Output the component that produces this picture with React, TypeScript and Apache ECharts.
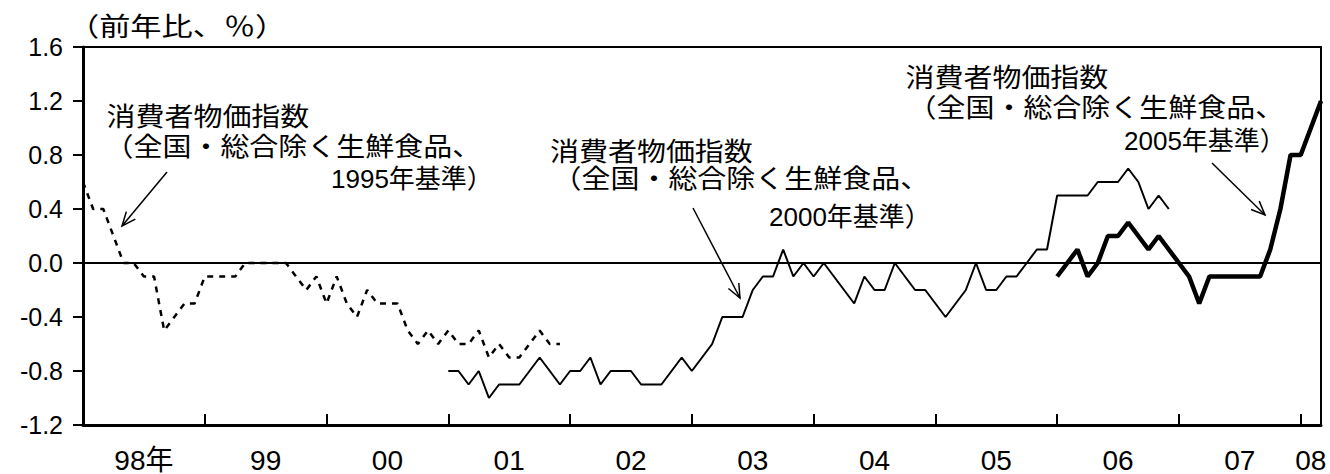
import React, { useEffect, useRef } from "react";
import * as echarts from "echarts";

// ---- categories: monthly, Jan 1998 – Mar 2008 ----
const FIRST_YEAR = 1998;
const LAST_YEAR = 2008;
const LAST_MONTH = 3;
const MONTHS: string[] = [];
for (let y = FIRST_YEAR; y <= LAST_YEAR; y++) {
  for (let m = 1; m <= 12; m++) {
    if (y === LAST_YEAR && m > LAST_MONTH) break;
    MONTHS.push(`${y}-${String(m).padStart(2, "0")}`);
  }
}

// ---- tick labels ----
const YEAR_LABELS = ["98年", "99", "00", "01", "02", "03", "04", "05", "06", "07", "08"];
const YEAR_LABEL_AT = [
  "1998-07", "1999-07", "2000-07", "2001-07", "2002-07", "2003-07",
  "2004-07", "2005-07", "2006-07", "2007-07", "2008-02",
];
const Y_MIN = -1.2;
const Y_MAX = 1.6;
const Y_STEP = 0.4;

// ---- series values (前年比, %) ----
// CPI 1995 base, from 1998-01
const CPI95_START = "1998-01";
const CPI95 = [
  0.6, 0.4, 0.4, 0.2, 0.0, 0.0, -0.1, -0.1, -0.5, -0.4, -0.3, -0.3,
  -0.1, -0.1, -0.1, -0.1, 0.0, 0.0, 0.0, 0.0, 0.0, -0.1, -0.2, -0.1,
  -0.3, -0.1, -0.3, -0.4, -0.2, -0.3, -0.3, -0.3, -0.5, -0.6, -0.5, -0.6,
  -0.5, -0.6, -0.6, -0.5, -0.7, -0.6, -0.7, -0.7, -0.6, -0.5, -0.6, -0.6,
];
// CPI 2000 base, from 2001-01
const CPI00_START = "2001-01";
const CPI00 = [
  -0.8, -0.8, -0.9, -0.8, -1.0, -0.9, -0.9, -0.9, -0.8, -0.7, -0.8, -0.9,
  -0.8, -0.8, -0.7, -0.9, -0.8, -0.8, -0.8, -0.9, -0.9, -0.9, -0.8, -0.7,
  -0.8, -0.7, -0.6, -0.4, -0.4, -0.4, -0.2, -0.1, -0.1, 0.1, -0.1, 0.0,
  -0.1, 0.0, -0.1, -0.2, -0.3, -0.1, -0.2, -0.2, 0.0, -0.1, -0.2, -0.2,
  -0.3, -0.4, -0.3, -0.2, 0.0, -0.2, -0.2, -0.1, -0.1, 0.0, 0.1, 0.1,
  0.5, 0.5, 0.5, 0.5, 0.6, 0.6, 0.6, 0.7, 0.6, 0.4, 0.5, 0.4,
];
// CPI 2005 base, from 2006-01
const CPI05_START = "2006-01";
const CPI05 = [
  -0.1, 0.0, 0.1, -0.1, 0.0, 0.2, 0.2, 0.3, 0.2, 0.1, 0.2, 0.1,
  0.0, -0.1, -0.3, -0.1, -0.1, -0.1, -0.1, -0.1, -0.1, 0.1, 0.4, 0.8,
  0.8, 1.0, 1.2,
];

const CJK = "'Noto Sans CJK JP', 'Noto Sans CJK SC', sans-serif";
const LATIN = "'Liberation Sans', Arial, 'Noto Sans CJK JP', sans-serif";
const NARROW = "'Liberation Sans Narrow', 'Liberation Sans', 'Noto Sans CJK JP', sans-serif";

function pad(startKey: string, values: number[]): (number | null)[] {
  const start = MONTHS.indexOf(startKey);
  return MONTHS.map((_, i) =>
    i >= start && i < start + values.length ? values[i - start] : null
  );
}

const LABEL_MAP: Record<string, string> = {};
YEAR_LABEL_AT.forEach((k, i) => (LABEL_MAP[k] = YEAR_LABELS[i]));

function textEl(text: string, x: number, y: number, fontSize: number, family: string, scaleX = 1) {
  return {
    type: "text",
    x,
    y,
    scaleX,
    silent: true,
    style: {
      text,
      fontSize,
      fontFamily: family,
      fill: "#000",
      textAlign: "left",
      textVerticalAlign: "middle",
      align: "left",
      verticalAlign: "middle",
    },
  };
}

function arrow(x1: number, y1: number, x2: number, y2: number) {
  const ang = Math.atan2(y2 - y1, x2 - x1);
  const len = 15;
  const spread = 0.4;
  const p1 = [x2 - len * Math.cos(ang - spread), y2 - len * Math.sin(ang - spread)];
  const p2 = [x2 - len * Math.cos(ang + spread), y2 - len * Math.sin(ang + spread)];
  return [
    { type: "line", silent: true, shape: { x1, y1, x2, y2 }, style: { stroke: "#000", lineWidth: 1.5 } },
    {
      type: "polyline",
      silent: true,
      shape: { points: [p1, [x2, y2], p2] },
      style: { stroke: "#000", lineWidth: 1.5, fill: null },
    },
  ];
}

const L1 = "消費者物価指数";
const L2 = "（全国・総合除く生鮮食品、";
const SX = 1.115;
const FS = 26;

export default function App() {
  const ref = useRef<HTMLDivElement>(null);
  useEffect(() => {
    if (!ref.current) return;
    const chart = echarts.init(ref.current, null, { renderer: "svg" });
    const option: any = {
      animation: false,
      backgroundColor: "#fff",
      grid: {
        left: 83,
        right: 9,
        top: 47,
        bottom: 49,
        show: true,
        borderColor: "#000",
        borderWidth: 2,
        backgroundColor: "transparent",
      },
      xAxis: {
        type: "category",
        data: MONTHS,
        boundaryGap: false,
        axisLine: { onZero: false, lineStyle: { color: "#000", width: 3 } },
        axisTick: {
          show: true,
          inside: true,
          length: 11,
          interval: (_i: number, v: string) => v.endsWith("-01"),
          lineStyle: { color: "#000", width: 2 },
        },
        axisLabel: {
          interval: (_i: number, v: string) => v in LABEL_MAP,
          formatter: (v: string) => LABEL_MAP[v] ?? "",
          fontSize: 28,
          fontFamily: LATIN,
          color: "#000",
          margin: 21,
        },
        splitLine: { show: false },
      },
      yAxis: {
        type: "value",
        min: Y_MIN,
        max: Y_MAX,
        interval: Y_STEP,
        axisLine: { show: true, lineStyle: { color: "#000", width: 3 } },
        axisTick: { show: true, length: 10, lineStyle: { color: "#000", width: 2 } },
        axisLabel: {
          formatter: (v: number) => (Math.abs(v) < 1e-9 ? 0 : v).toFixed(1),
          fontSize: 25,
          fontFamily: LATIN,
          color: "#000",
          margin: 20,
        },
        splitLine: { show: false },
      },
      series: [
        {
          name: "zero",
          type: "line",
          data: [],
          symbol: "none",
          silent: true,
          markLine: {
            silent: true,
            symbol: ["none", "none"],
            label: { show: false },
            lineStyle: { color: "#000", width: 2, type: "solid" },
            data: [{ yAxis: 0 }],
          },
        },
        {
          name: "消費者物価指数（1995年基準）",
          type: "line",
          data: pad(CPI95_START, CPI95),
          symbol: "none",
          connectNulls: false,
          lineStyle: { color: "#000", width: 2.5, type: [6, 6] },
        },
        {
          name: "消費者物価指数（2000年基準）",
          type: "line",
          data: pad(CPI00_START, CPI00),
          symbol: "none",
          connectNulls: false,
          lineStyle: { color: "#000", width: 2 },
        },
        {
          name: "消費者物価指数（2005年基準）",
          type: "line",
          data: pad(CPI05_START, CPI05),
          symbol: "none",
          connectNulls: false,
          lineStyle: { color: "#000", width: 4.5 },
        },
      ],
      graphic: [
        textEl("（前年比、％）", 68, 25, FS, CJK, 1.2),
        // 1995 base
        textEl(L1, 106.5, 115, FS, CJK, SX),
        textEl(L2, 104.5, 145, FS, CJK, SX),
        textEl("1995年基準）", 331, 179, FS, NARROW),
        ...arrow(167, 172, 122, 226),
        // 2000 base
        textEl(L1, 550, 150, FS, CJK, SX),
        textEl(L2, 552.5, 177, FS, CJK, SX),
        textEl("2000年基準）", 769, 217, FS, NARROW),
        ...arrow(693, 208, 740, 298),
        // 2005 base
        textEl(L1, 905.5, 76, FS, CJK, SX),
        textEl(L2, 907.5, 106, FS, CJK, SX),
        textEl("2005年基準）", 1124, 141, FS, NARROW),
        ...arrow(1212, 163, 1265, 215),
      ],
    };
    chart.setOption(option);
    return () => chart.dispose();
  }, []);
  return (
    <div
      ref={ref}
      style={{ position: "fixed", left: 0, top: 0, width: 1330, height: 474, background: "#fff" }}
    />
  );
}
